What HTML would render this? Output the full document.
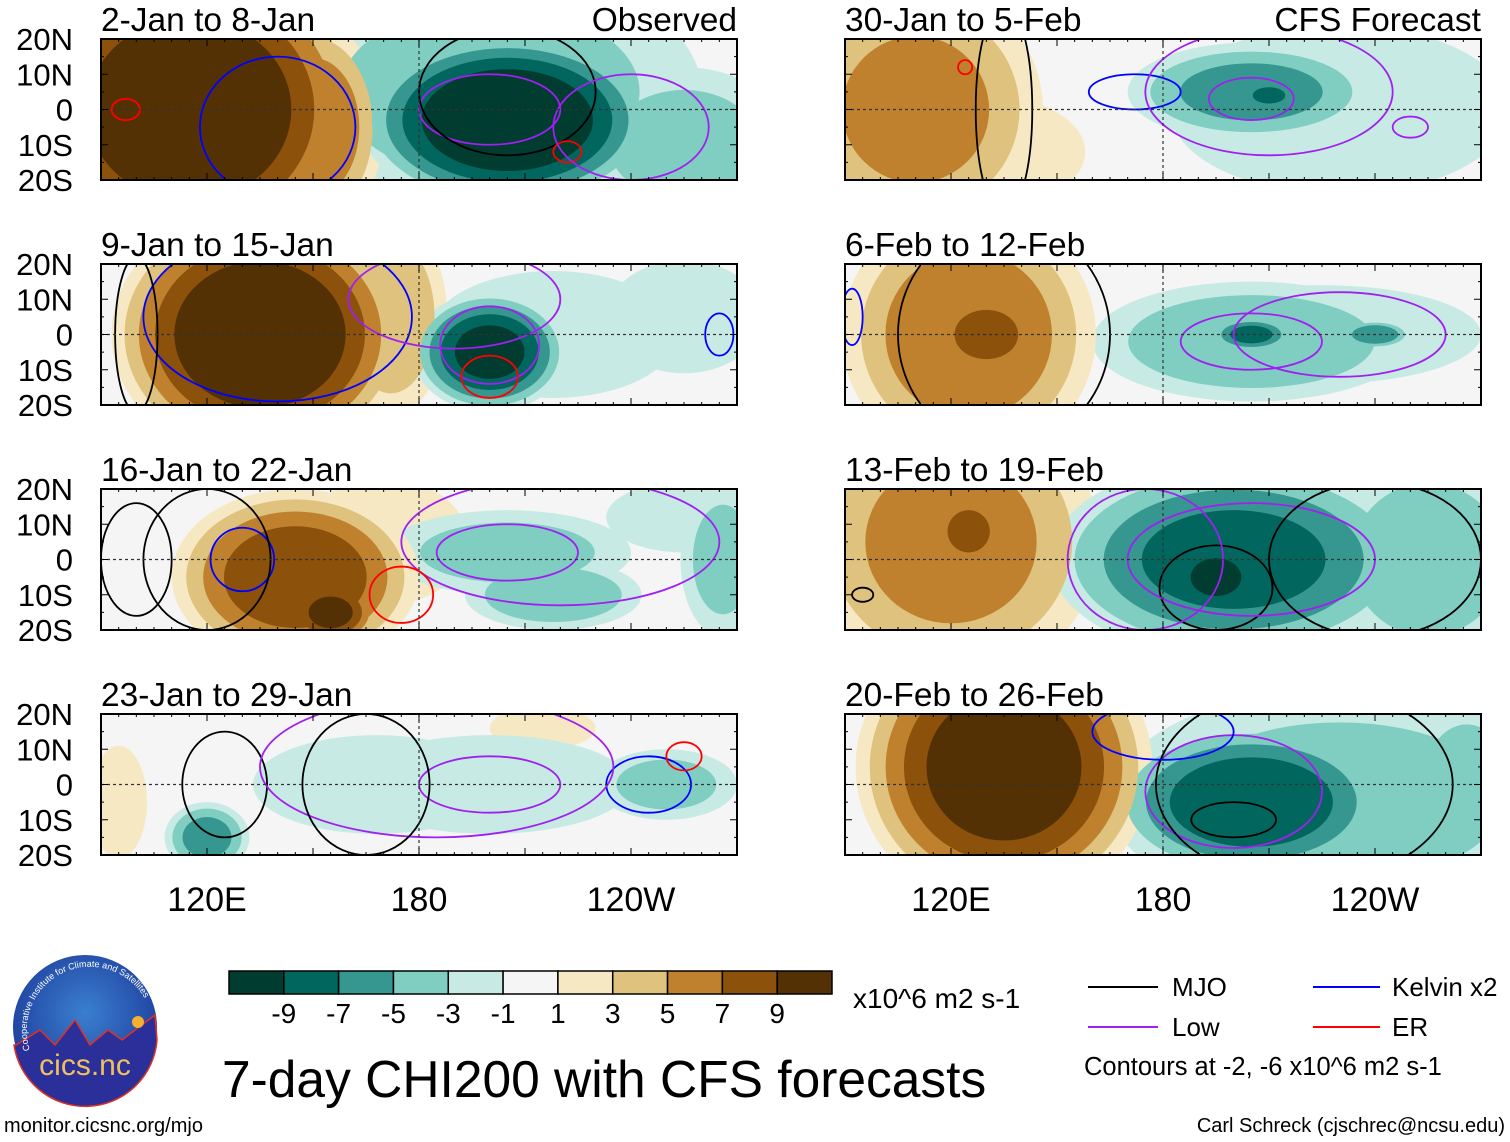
<!DOCTYPE html>
<html><head><meta charset="utf-8"><style>
html,body{margin:0;padding:0;background:#fff;}
svg{display:block;font-family:"Liberation Sans",Arial,sans-serif;}
</style></head><body>
<svg id="fig" width="1510" height="1142" viewBox="0 0 1510 1142" xmlns="http://www.w3.org/2000/svg">
<defs>
<radialGradient id="lg" cx="50%" cy="40%" r="60%"><stop offset="0" stop-color="#3a7fd0"/><stop offset="1" stop-color="#1d3b9a"/></radialGradient>
<path id="arc" d="M30,1050 A58,58 0 0 1 150,1010"/>
</defs>
<g id="panels"></g>
<g id="colorbar"></g>
<text x="853" y="1008" font-size="28">x10^6 m2 s-1</text>
<text x="222" y="1097" font-size="51.5">7-day CHI200 with CFS forecasts</text>
<g font-size="26">
<line x1="1088" y1="987" x2="1158" y2="987" stroke="#000" stroke-width="2"/><text x="1172" y="996">MJO</text>
<line x1="1313" y1="987" x2="1380" y2="987" stroke="#0000ff" stroke-width="2"/><text x="1392" y="996">Kelvin x2</text>
<line x1="1088" y1="1027" x2="1158" y2="1027" stroke="#a020f0" stroke-width="2"/><text x="1172" y="1036">Low</text>
<line x1="1313" y1="1027" x2="1380" y2="1027" stroke="#ff0000" stroke-width="2"/><text x="1392" y="1036">ER</text>
<text x="1084" y="1075" font-size="25.5">Contours at -2, -6 x10^6 m2 s-1</text>
</g>
<g>
<circle cx="85" cy="1027" r="72" fill="url(#lg)"/>
<path d="M16,1045 L40,1030 L55,1045 L75,1020 L90,1045 L108,1030 L122,1040 L155,1015 L157,1040 A72,72 0 0 1 14,1045 Z" fill="#2a2f9a" stroke="#e03020" stroke-width="1.5"/>
<circle cx="138" cy="1022" r="6" fill="#f5b030"/>
<text font-size="9" fill="#fff"><textPath href="#arc">Cooperative Institute for Climate and Satellites</textPath></text>
<text x="85" y="1075" font-size="30" fill="#f0c060" text-anchor="middle">cics.nc</text>
</g>
<text x="4" y="1132" font-size="20">monitor.cicsnc.org/mjo</text>
<text x="1505" y="1132" font-size="20" text-anchor="end">Carl Schreck (cjschrec@ncsu.edu)</text>
</svg>
<script>
const colors = ["#003c30","#01665e","#35978f","#80cdc1","#c7eae5","#f5f5f5","#f6e8c3","#dfc27d","#bf812d","#8c510a","#543005"];
const cbLabels = ["-9","-7","-5","-3","-1","1","3","5","7","9"];
const thresholds = [1,3,5,7,9];
const latTicks = ["20N","10N","0","10S","20S"];
const lonTicks = ["120E","180","120W"];
const lonTickValues = [120,180,240];
const panelTitles = ["2-Jan to 8-Jan","9-Jan to 15-Jan","16-Jan to 22-Jan","23-Jan to 29-Jan","30-Jan to 5-Feb","6-Feb to 12-Feb","13-Feb to 19-Feb","20-Feb to 26-Feb"];
// blobs: [lon, lat, rxDeg, ryDeg, value]
const blobs0 = [[115,0,50,45,12],[150,-5,20,30,7],[205,-3,42,25,-12],[200,5,60,35,-4],[255,-10,30,22,-4],[228,12,22,12,-3]];
const blobs1 = [[135,0,42,36,12],[172,5,16,28,5],[200,-5,22,17,-10],[218,0,35,18,-3],[103,0,8,16,-3],[255,5,22,16,-3]];
const blobs2 = [[145,-5,35,25,9],[155,-15,14,10,10],[170,5,24,18,2],[205,2,35,12,-4],[218,-10,25,10,-5],[255,12,22,10,-3],[266,0,12,22,-4]];
const blobs3 = [[120,-15,12,10,-6],[168,0,35,14,-3],[200,0,40,14,-3],[250,0,20,10,-4],[95,-5,8,16,3],[215,16,15,6,2]];
const blobs4 = [[110,0,36,36,6],[130,-12,28,16,3],[205,5,35,14,-6],[210,4,8,4,-9],[230,0,48,24,-2]];
const blobs5 = [[125,0,36,36,7],[130,0,18,14,8],[205,-2,45,17,-5],[225,0,45,14,-3],[205,0,12,5,-8],[240,0,10,4,-7]];
const blobs6 = [[120,5,42,40,6],[125,8,12,12,8],[200,0,52,28,-8],[195,-5,16,12,-10],[255,0,28,28,-5]];
const blobs7 = [[135,5,42,40,11],[205,-5,40,22,-9],[230,-5,65,32,-4],[266,0,16,22,-5]];
const blobsAll = [blobs0,blobs1,blobs2,blobs3,blobs4,blobs5,blobs6,blobs7];
// contours: [type, lon, lat, rxDeg, ryDeg]
const cont0 = [["kelvin",140,-5,22,20],["low",200,0,20,10],["mjo",205,5,25,18],["er",97,0,4,3],["er",222,-12,4,3],["low",240,-5,22,15]];
const cont1 = [["kelvin",140,5,38,24],["low",200,-3,14,11],["low",190,10,30,14],["er",200,-12,8,6],["mjo",100,0,6,22],["kelvin",265,0,4,6]];
const cont2 = [["kelvin",130,0,9,9],["mjo",120,0,18,20],["low",205,2,20,8],["low",220,5,45,18],["er",175,-10,9,8],["mjo",100,0,10,16]];
const cont3 = [["mjo",125,0,12,15],["low",200,0,20,8],["kelvin",245,0,12,8],["er",255,8,5,4],["low",185,5,50,20],["mjo",165,0,18,20]];
const cont4 = [["kelvin",172,5,13,5],["low",205,3,12,6],["low",210,5,35,18],["mjo",135,0,8,30],["low",250,-5,5,3],["er",124,12,2,2]];
const cont5 = [["low",205,-2,20,8],["low",230,0,30,12],["mjo",135,0,30,32],["kelvin",92,5,3,8]];
const cont6 = [["mjo",195,-8,16,12],["low",205,0,35,16],["mjo",240,0,30,22],["mjo",95,-10,3,2],["low",175,0,22,20]];
const cont7 = [["mjo",200,-10,12,5],["low",200,-2,25,16],["mjo",220,0,42,28],["kelvin",180,15,20,8]];
const contAll = [cont0,cont1,cont2,cont3,cont4,cont5,cont6,cont7];
const strokeColors = {mjo:"#000000",low:"#a020f0",kelvin:"#0000ff",er:"#ff0000"};

const NS="http://www.w3.org/2000/svg";
const panelX=[101,845], panelY=[39,264,489,714], PW=636, PH=141;
function mk(tag,attrs,parent){const e=document.createElementNS(NS,tag);for(const k in attrs)e.setAttribute(k,attrs[k]);parent.appendChild(e);return e;}
function colorFor(v,t){ return v>0 ? colors[6+t] : colors[4-t]; }
const root=document.getElementById('panels');
for(let p=0;p<8;p++){
  const col=p<4?0:1,row=p%4;
  const x0=panelX[col],y0=panelY[row];
  const xs=lon=>x0+(lon-90)/180*PW;
  const ys=lat=>y0+(20-lat)/40*PH;
  const g=mk('g',{},root);
  
  
  const cp=mk('clipPath',{id:'cp'+p},g);
  mk('rect',{x:x0,y:y0,width:PW,height:PH},cp);
  const f=mk('g',{'clip-path':'url(#cp'+p+')'},g);
  mk('rect',{x:x0,y:y0,width:PW,height:PH,fill:colors[5]},f);
  const bl=blobsAll[p].slice().sort((a,b)=>Math.abs(a[4])-Math.abs(b[4]));
  for(let t=0;t<5;t++){
    for(const b of bl){
      const m=Math.abs(b[4]);if(m<=thresholds[t])continue;
      const s=Math.sqrt(1-(thresholds[t]-1)/(m));
      const e=mk('ellipse',{cx:xs(b[0]),cy:ys(b[1]),rx:b[2]*s*PW/180,ry:b[3]*s*PH/40,fill:colorFor(b[4],t)},f);
      
      
    }
  }
  for(const c of contAll[p]){
    const e=mk('ellipse',{cx:xs(c[1]),cy:ys(c[2]),rx:c[3]*PW/180,ry:c[4]*PH/40,fill:'none',stroke:strokeColors[c[0]],'stroke-width':1.8},f);
    
    
  }
  mk('line',{x1:x0,y1:ys(0),x2:x0+PW,y2:ys(0),stroke:'#333','stroke-width':1.2,'stroke-dasharray':'3,3'},f);
  mk('line',{x1:xs(180),y1:y0,x2:xs(180),y2:y0+PH,stroke:'#333','stroke-width':1.2,'stroke-dasharray':'3,3'},f);
  mk('rect',{x:x0,y:y0,width:PW,height:PH,fill:'none',stroke:'#000','stroke-width':2},g);
  for(let lon=95;lon<270;lon+=5){const L=lon%30===0?7:3;
    mk('line',{x1:xs(lon),y1:y0,x2:xs(lon),y2:y0+L,stroke:'#000'},g);
    mk('line',{x1:xs(lon),y1:y0+PH,x2:xs(lon),y2:y0+PH-L,stroke:'#000'},g);}
  for(let lat=-15;lat<20;lat+=5){const L=lat%10===0?7:3;
    mk('line',{x1:x0,y1:ys(lat),x2:x0+L,y2:ys(lat),stroke:'#000'},g);
    mk('line',{x1:x0+PW,y1:ys(lat),x2:x0+PW-L,y2:ys(lat),stroke:'#000'},g);}
  const tt=mk('text',{x:x0,y:y0-8,'font-size':33.5},g);tt.textContent=panelTitles[p];
  
  if(p===0){const o=mk('text',{x:x0+PW,y:y0-8,'font-size':33.5,'text-anchor':'end'},g);o.textContent='Observed';}
  if(p===4){const o=mk('text',{x:x0+PW,y:y0-8,'font-size':33.5,'text-anchor':'end'},g);o.textContent='CFS Forecast';}
  if(col===0){latTicks.forEach((l,i)=>{const t=mk('text',{x:73,y:ys(20-i*10)+11,'font-size':31,'text-anchor':'end'},g);t.textContent=l;
    });}
  if(row===3){lonTicks.forEach((l,i)=>{const t=mk('text',{x:xs(lonTickValues[i]),y:911,'font-size':34,'text-anchor':'middle'},g);t.textContent=l;
    });}
}
const cb=document.getElementById('colorbar');
const cbx=229,cbw=603/11;
colors.forEach((c,i)=>{const r=mk('rect',{x:cbx+i*cbw,y:971,width:cbw,height:23,fill:c,stroke:'#000','stroke-width':1.5},cb);
  
  });
cbLabels.forEach((l,i)=>{const t=mk('text',{x:cbx+(i+1)*cbw,y:1023,'font-size':28,'text-anchor':'middle'},cb);t.textContent=l;
  });
</script>
</body></html>
